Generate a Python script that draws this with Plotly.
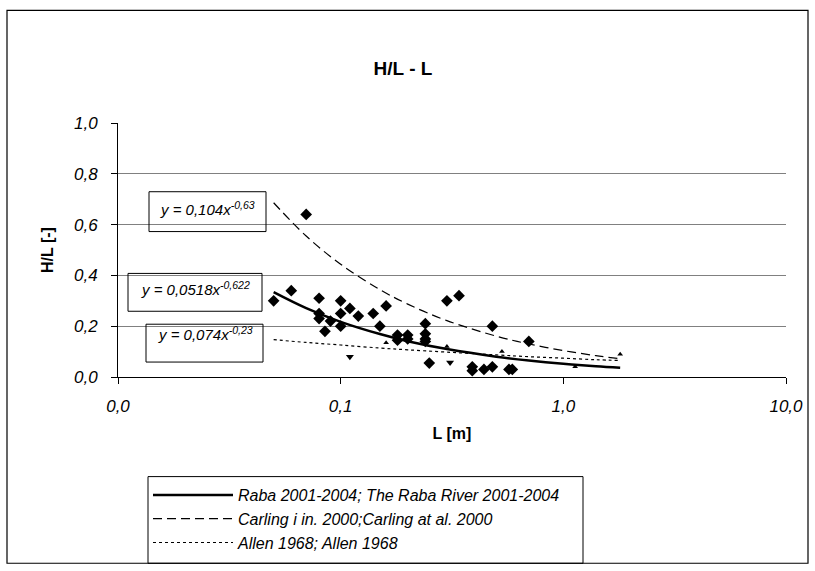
import plotly.graph_objects as go

# ---- data ----
raba_L = [0.05, 0.06, 0.07, 0.08, 0.08, 0.08, 0.085, 0.09, 0.10, 0.10, 0.10, 0.11, 0.12,
          0.14, 0.15, 0.16, 0.18, 0.18, 0.20, 0.20, 0.24, 0.24, 0.24, 0.24, 0.25,
          0.30, 0.34, 0.39, 0.39, 0.44, 0.48, 0.48, 0.57, 0.59, 0.70]
raba_HL = [0.30, 0.34, 0.64, 0.31, 0.25, 0.23, 0.18, 0.22, 0.30, 0.25, 0.20, 0.27, 0.24,
           0.25, 0.20, 0.28, 0.165, 0.145, 0.165, 0.15, 0.21, 0.17, 0.15, 0.14, 0.055,
           0.30, 0.32, 0.04, 0.025, 0.03, 0.20, 0.04, 0.03, 0.03, 0.14]

tri_down_L = [0.11, 0.31]
tri_down_HL = [0.08, 0.057]
tri_up_L = [0.16, 0.30, 0.53, 1.13, 1.8]
tri_up_HL = [0.135, 0.12, 0.10, 0.04, 0.09]

# trend curves (x from 0.05 to 1.8)
trend_L = [0.05, 0.07, 0.10, 0.15, 0.20, 0.30, 0.50, 0.70, 1.00, 1.40, 1.80]
raba_trend = [0.334, 0.271, 0.217, 0.169, 0.141, 0.110, 0.080, 0.065, 0.052, 0.042, 0.036]
carling_trend = [0.686, 0.555, 0.444, 0.344, 0.287, 0.222, 0.161, 0.130, 0.104, 0.084, 0.072]
allen_trend = [0.147, 0.136, 0.126, 0.114, 0.107, 0.098, 0.087, 0.080, 0.074, 0.068, 0.065]

legend_names = ["Raba 2001-2004; The Raba River 2001-2004",
                "Carling i in. 2000;Carling at al. 2000",
                "Allen 1968; Allen 1968"]
equations = ["y = 0,104x<sup>-0,63</sup>",
             "y = 0,0518x<sup>-0,622</sup>",
             "y = 0,074x<sup>-0,23</sup>"]

x_tickvals = [0.01, 0.1, 1, 10]
x_ticktext = ["0,0", "0,1", "1,0", "10,0"]
y_tickvals = [0, 0.2, 0.4, 0.6, 0.8, 1.0]
y_ticktext = ["0,0", "0,2", "0,4", "0,6", "0,8", "1,0"]

FONT = "Liberation Sans, Arial, sans-serif"

def ital(s):
    return "<i>" + s + "</i>"

fig = go.Figure()

fig.add_trace(go.Scatter(x=raba_L, y=raba_HL, mode="markers", showlegend=False,
                         marker=dict(symbol="diamond", size=9, color="black")))
fig.add_trace(go.Scatter(x=tri_down_L, y=tri_down_HL, mode="markers", showlegend=False,
                         marker=dict(symbol="triangle-down", size=7, color="black")))
fig.add_trace(go.Scatter(x=tri_up_L, y=tri_up_HL, mode="markers", showlegend=False,
                         marker=dict(symbol="triangle-up", size=5, color="black")))

fig.add_trace(go.Scatter(x=trend_L, y=raba_trend, mode="lines", name=ital(legend_names[0]),
                         line=dict(color="black", width=2.5, shape="spline"),
                         legendgroup="a"))
fig.add_trace(go.Scatter(x=trend_L, y=carling_trend, mode="lines", name=ital(legend_names[1]),
                         line=dict(color="black", width=1.2, dash="9px,5px", shape="spline"),
                         legendgroup="b"))
fig.add_trace(go.Scatter(x=trend_L, y=allen_trend, mode="lines", name=ital(legend_names[2]),
                         line=dict(color="black", width=1.2, dash="3px,3px", shape="spline"),
                         legendgroup="c"))

# plot area in page pixels (body margin removed below)
L, R, T, B = 118, 786, 123, 378
W, H = R - L, B - T
def px(xp):
    return (xp - L) / W
def py(yp):
    return (B - yp) / H

shapes = []
# outer frame
shapes.append(dict(type="rect", xref="paper", yref="paper",
                   x0=px(7), x1=px(808), y0=py(565), y1=py(10),
                   line=dict(color="black", width=1.2), layer="below"))
# legend frame
shapes.append(dict(type="rect", xref="paper", yref="paper",
                   x0=px(148), x1=px(583), y0=py(565), y1=py(478),
                   line=dict(color="black", width=1), layer="below"))
# equation boxes
boxes = [(149, 266, 192, 232), (128, 262, 274, 312), (146, 263, 325, 363)]
for (x0, x1, y0, y1) in boxes:
    shapes.append(dict(type="rect", xref="paper", yref="paper",
                       x0=px(x0), x1=px(x1), y0=py(y1), y1=py(y0),
                       line=dict(color="black", width=1)))

annotations = []
text_pos = [(207, 209), (195, 289), (205, 334)]
for eq, (tx, ty) in zip(equations, text_pos):
    annotations.append(dict(xref="paper", yref="paper", x=px(tx), y=py(ty),
                            text=ital(eq), showarrow=False, xanchor="center", yanchor="middle",
                            font=dict(family=FONT, size=15, color="black")))

fig.update_layout(
    width=815, height=571,
    margin=dict(l=L, r=815 - R, t=T, b=571 - B),
    paper_bgcolor="white", plot_bgcolor="white",
    title=dict(text="<b>H/L - L</b>", x=403 / 815, xanchor="center",
               y=1 - 68 / 571, yanchor="middle",
               font=dict(family=FONT, size=19, color="black")),
    xaxis=dict(type="log", range=[-2, 1], tickvals=x_tickvals,
               ticktext=[ital(t) for t in x_ticktext],
               showgrid=False, zeroline=False, showline=True, linecolor="black", linewidth=1,
               ticks="outside", ticklen=6, tickcolor="black", ticklabelstandoff=8,
               tickfont=dict(family=FONT, size=17, color="black"),
               title=dict(text="<b>L [m]</b>", standoff=12,
                          font=dict(family=FONT, size=16, color="black"))),
    yaxis=dict(range=[0, 1.0], tickvals=y_tickvals,
               ticktext=[ital(t) for t in y_ticktext],
               showgrid=True, gridcolor="#808080", gridwidth=1.2,
               zeroline=False, showline=True, linecolor="black", linewidth=1,
               ticks="outside", ticklen=6, tickcolor="black", ticklabelstandoff=10,
               tickfont=dict(family=FONT, size=17, color="black"),
               title=dict(text="<b>H/L [-]</b>", standoff=16,
                          font=dict(family=FONT, size=16, color="black"))),
    legend=dict(x=px(148), y=py(478), xanchor="left", yanchor="top",
                borderwidth=0, bgcolor="rgba(0,0,0,0)",
                itemwidth=80, traceorder="grouped", tracegroupgap=0,
                font=dict(family=FONT, size=16, color="black")),
    shapes=shapes, annotations=annotations,
)

fig.write_html("out.html", config={"displayModeBar": False},
               post_script="document.body.style.margin='0px';document.body.style.overflow='hidden';")
